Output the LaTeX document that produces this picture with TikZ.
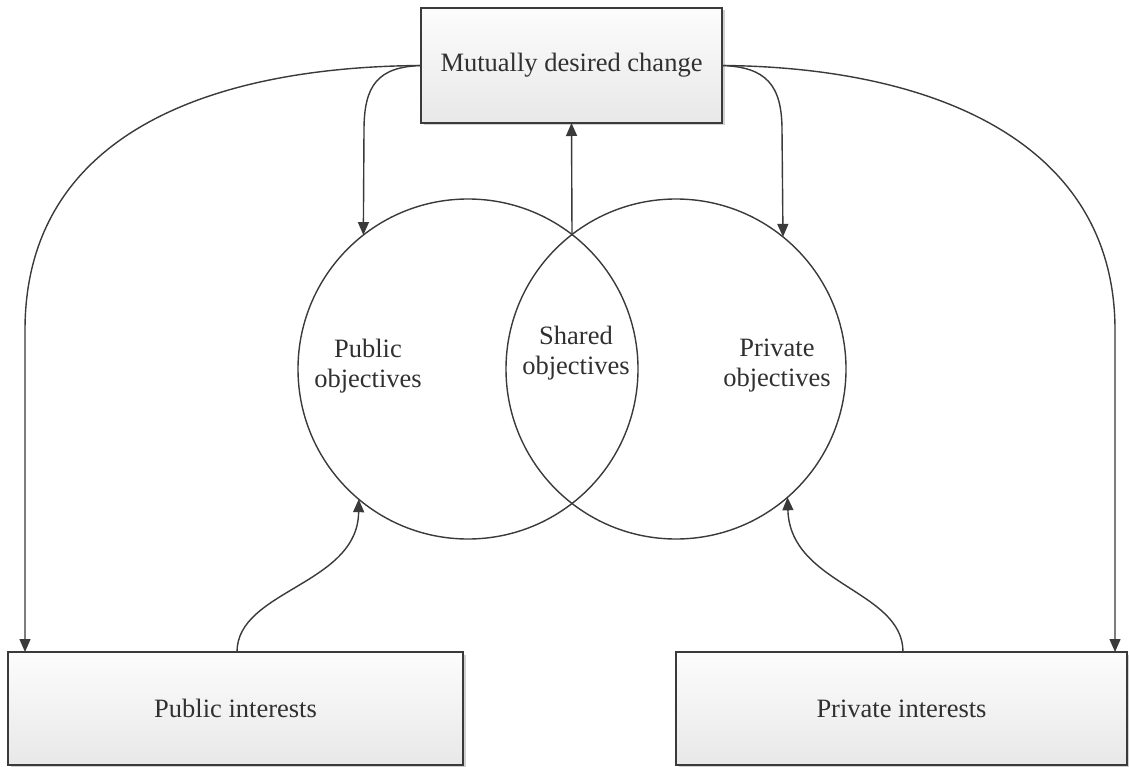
\documentclass[tikz,border=0pt]{standalone}
\usepackage{fontspec}
\setmainfont{Liberation Serif}
\usetikzlibrary{arrows.meta,shadows}
\definecolor{ln}{HTML}{3A3A3A}
\definecolor{tx}{HTML}{303030}
\tikzset{
  boxnode/.style={draw=ln, line width=1.5pt, rectangle, inner sep=0pt, outer sep=0pt,
    top color=white!99!black, bottom color=white!91!black,
    drop shadow={shadow xshift=2.5pt, shadow yshift=-2.5pt, opacity=0.18, fill=black},
    text=tx, font=\fontsize{26.5}{30}\selectfont},
  circnode/.style={draw=ln, line width=1.4pt, circle, minimum size=340pt, inner sep=0pt, outer sep=0pt},
  lbl/.style={align=center, text=tx, font=\fontsize{26.5}{30}\selectfont, inner sep=0pt},
  arr/.style={draw=ln, line width=1.4pt, -{Triangle[length=13pt,width=11pt]}},
}
\begin{document}
\begin{tikzpicture}[x=1pt,y=-1pt]
\useasboundingbox (0,0) rectangle (1129,767);
\fill[white] (0,0) rectangle (1129,767);
% circles
\node[circnode] (lc) at (468,369) {};
\node[circnode] (rc) at (676,369) {};
\coordinate (itop) at (572,234.5);
% boxes
\node[boxnode, minimum width=301pt, minimum height=115pt] (top) at (571.5,65.5) {Mutually desired change};
\node[boxnode, minimum width=455pt, minimum height=113pt] (pub) at (235.5,708.5) {Public interests};
\node[boxnode, minimum width=451pt, minimum height=113pt] (pri) at (901.5,708.5) {Private interests};
% labels
\node[lbl] (lpub) at (368,366.5) {Public\\objectives};
\node[lbl] (lsh) at (576,353.5) {Shared\\objectives};
\node[lbl] (lpri) at (777,365.5) {Private\\objectives};
% connectors
\draw[arr] (top.west) .. controls (200,67) and (25,140) .. (25,330) -- ([xshift=17pt]pub.north west);
\draw[arr] (top.east) .. controls (930,67) and (1115,140) .. (1115,330) -- ([xshift=-12pt]pri.north east);
\draw[arr] (top.west) .. controls (378,67) and (364,85) .. (364,130) -- (lc.128);
\draw[arr] (top.east) .. controls (766,67) and (782,85) .. (782,130) -- (rc.51);
\draw[arr] (itop) -- (top.south);
\draw[arr] ([xshift=1.5pt]pub.north) .. controls (237,590) and (358,585) .. (lc.230);
\draw[arr] ([xshift=1.5pt]pri.north) .. controls (903,590) and (790,585) .. (rc.311);
\end{tikzpicture}
\end{document}
